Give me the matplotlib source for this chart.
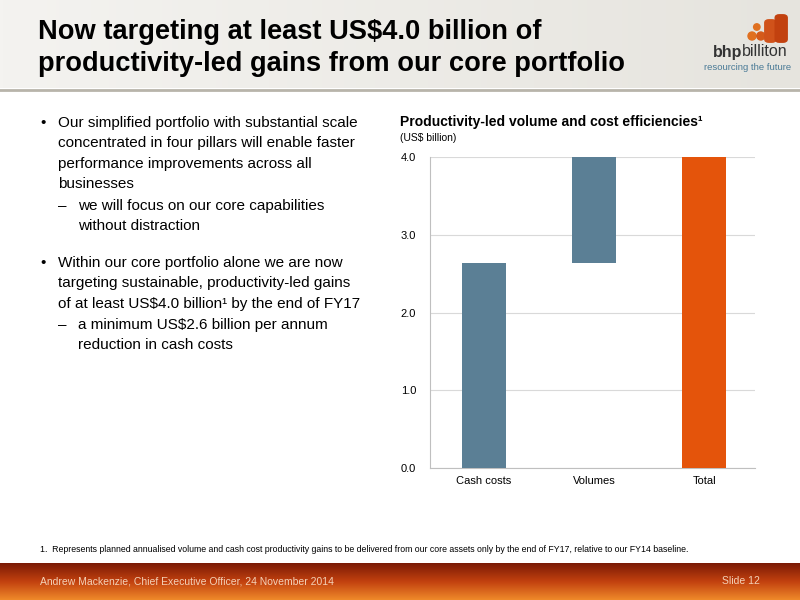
import matplotlib
matplotlib.use("Agg")
import matplotlib.pyplot as plt
import matplotlib.patches as mpatches
from matplotlib.colors import LinearSegmentedColormap
import numpy as np

categories = ["Cash costs", "Volumes", "Total"]
bar_bottoms = [0.0, 2.64, 0.0]
bar_heights = [2.64, 1.36, 4.0]
bar_colors = ["#5b7f95", "#5b7f95", "#e4540b"]
yticks = [0.0, 1.0, 2.0, 3.0, 4.0]

fig = plt.figure(figsize=(8, 6), dpi=100)
fig.patch.set_facecolor("white")

# header gradient
hdr = fig.add_axes([0, 1 - 88/600, 1, 88/600])
hc = LinearSegmentedColormap.from_list("h", ["#f4f3f0", "#e6e4de"])
hdr.imshow(np.linspace(0, 1, 256).reshape(1, -1), aspect="auto", cmap=hc, extent=[0, 1, 0, 1])
hdr.axis("off")
fig.add_artist(plt.Line2D([0, 1], [1 - 90/600, 1 - 90/600], color="#b8b4aa", lw=2))
fig.text(0.048, 1 - 48/600, "Now targeting at least US$4.0 billion of\nproductivity-led gains from our core portfolio",
         fontsize=19.6, fontweight="bold", color="black", va="center", ha="left", linespacing=1.3,
         family="Liberation Sans")
# logo
fig.text(0.9275, 1 - 52/600, "bhp", fontsize=11.5, fontweight="bold", color="#333333", ha="right", va="center", family="Liberation Sans")
fig.text(0.9275, 1 - 52/600, "billiton", fontsize=11.5, color="#333333", ha="left", va="center", family="Liberation Sans")
fig.text(0.934, 1 - 68/600, "resourcing the future", fontsize=6.8, color="#4a7a96", ha="center", va="center", family="Liberation Sans")
for (cx, cy, r, c) in [(0.940, 1 - 36/600, 0.005, "#e07020"), (0.951, 1 - 36/600, 0.005, "#d45a1a"),
                       (0.946, 1 - 27/600, 0.004, "#e07020")]:
    fig.add_artist(mpatches.Ellipse((cx, cy), r * 2, r * 2 * 8 / 6, color=c, transform=fig.transFigure))
for (x0, y0, w, h, c) in [(0.958, 1 - 41/600, 0.010, 20/600, "#d0521a"), (0.971, 1 - 41/600, 0.011, 25/600, "#c2410f")]:
    fig.add_artist(mpatches.FancyBboxPatch((x0, y0), w, h, boxstyle="round,pad=0.002,rounding_size=0.005",
                                           color=c, transform=fig.transFigure))

# footer gradient (dark at top, orange at bottom)
ftr = fig.add_axes([0, 0, 1, 37/600])
fc = LinearSegmentedColormap.from_list("f", ["#f08a2a", "#c2410f", "#7a1a05"])
ftr.imshow(np.linspace(0, 1, 256).reshape(-1, 1), aspect="auto", cmap=fc, extent=[0, 1, 0, 1], origin="lower")
ftr.axis("off")
fig.text(0.05, 19/600, "Andrew Mackenzie, Chief Executive Officer, 24 November 2014", fontsize=7.5,
         color="#f3d2b8", va="center", family="Liberation Sans")
fig.text(0.95, 19/600, "Slide 12", fontsize=7.5, color="#f3d2b8", va="center", ha="right", family="Liberation Sans")
fig.text(0.05, 1 - 550/600, "1.  Represents planned annualised volume and cash cost productivity gains to be delivered from our core assets only by the end of FY17, relative to our FY14 baseline.",
         fontsize=6.3, color="black", va="center", family="Liberation Sans")

# bullet text
tf = dict(fontsize=11, color="black", family="Liberation Sans", va="top", linespacing=1.58)
fig.text(0.05, 1 - 116/600, "•", **tf)
fig.text(0.072, 1 - 116/600, "Our simplified portfolio with substantial scale\nconcentrated in four pillars will enable faster\nperformance improvements across all\nbusinesses", **tf)
fig.text(0.072, 1 - 199/600, "–", **tf)
fig.text(0.098, 1 - 199/600, "we will focus on our core capabilities\nwithout distraction", **tf)
fig.text(0.05, 1 - 256/600, "•", **tf)
fig.text(0.072, 1 - 256/600, "Within our core portfolio alone we are now\ntargeting sustainable, productivity-led gains\nof at least US$4.0 billion¹ by the end of FY17", **tf)
fig.text(0.072, 1 - 318/600, "–", **tf)
fig.text(0.098, 1 - 318/600, "a minimum US$2.6 billion per annum\nreduction in cash costs", **tf)

# chart
fig.text(0.5, 1 - 122/600, "Productivity-led volume and cost efficiencies¹", fontsize=10, fontweight="bold",
         family="Liberation Sans", va="center")
fig.text(0.5, 1 - 138/600, "(US$ billion)", fontsize=7.5, family="Liberation Sans", va="center")
ax = fig.add_axes([0.5375, 0.22, 0.40625, 0.5183])
x = np.arange(len(categories))
ax.bar(x, bar_heights, bottom=bar_bottoms, color=bar_colors, width=0.4, zorder=3)
ax.set_xlim(-0.49, 2.46)
ax.set_ylim(0, 4.0)
ax.set_yticks(yticks)
ax.set_yticklabels([f"{v:.1f}" for v in yticks], fontsize=8, family="Liberation Sans")
ax.set_xticks(x)
ax.set_xticklabels(categories, fontsize=8, family="Liberation Sans")
ax.yaxis.grid(True, color="#d9d9d9", lw=0.8, zorder=0)
for s in ["top", "right"]:
    ax.spines[s].set_visible(False)
ax.spines["left"].set_color("#bfbfbf")
ax.spines["bottom"].set_color("#bfbfbf")
ax.tick_params(axis="both", length=0, pad=6)
ax.tick_params(axis="y", pad=10)

fig.savefig("out.png", dpi=100)
